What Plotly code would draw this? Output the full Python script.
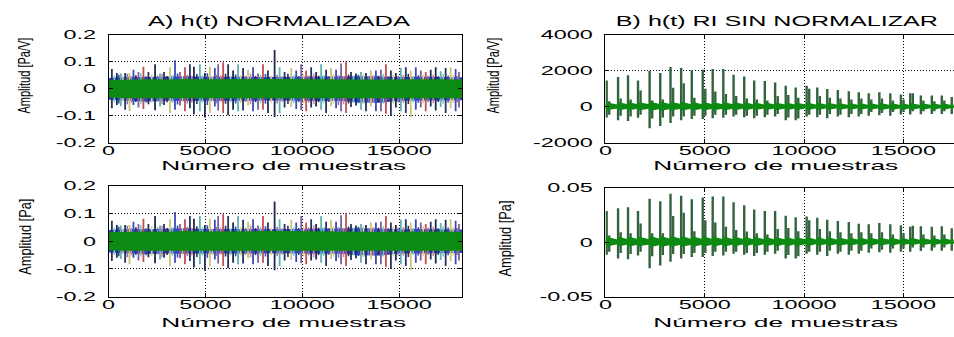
import json
import plotly.graph_objects as go

# ---------------- DATA ----------------
x_ticks = [0, 5000, 10000, 15000]
x_tick_text = ["0", "5000", "10000", "15000"]
a_y_ticks = [-0.2, -0.1, 0, 0.1, 0.2]
a_y_text = ["-0.2", "-0.1", "0", "0.1", "0.2"]
b_y_ticks = [-2000, 0, 2000, 4000]
b_y_text = ["-2000", "0", "2000", "4000"]
c_y_ticks = [-0.05, 0, 0.05]
c_y_text = ["-0.05", "0", "0.05"]

# Panel A (normalised responses, 8 overlapping traces) - tallest peaks
a_pos = [171, 429, 634, 857, 1080, 1286, 1543, 1800, 2058, 2400, 2658, 2864, 3172, 3429, 3687,
         3944, 4201, 4407, 4715, 4973, 5230, 5487, 5658, 5916, 6173, 6430, 6687, 6944, 7202,
         7459, 7716, 7973, 8230, 8573, 8831, 9088, 9431, 9688, 9945, 10202, 10459, 10717,
         10974, 11231, 11488, 11745, 12003, 12260, 12517, 12774, 13031, 13289, 13546, 13803,
         14060, 14318, 14575, 14832, 15089, 15346, 15603, 15861, 16118, 16375, 16632, 16889,
         17147, 17404, 17661, 17918, 18090]
a_top = [0.073, 0.058, 0.056, 0.058, 0.058, 0.070, 0.062, 0.081, 0.062, 0.091, 0.056, 0.062, 0.079,
         0.105, 0.062, 0.079, 0.091, 0.081, 0.091, 0.058, 0.081, 0.077, 0.091, 0.097, 0.091, 0.067,
         0.091, 0.077, 0.070, 0.079, 0.056, 0.091, 0.067, 0.143, 0.079, 0.062, 0.077, 0.067, 0.091,
         0.067, 0.079, 0.062, 0.091, 0.070, 0.077, 0.070, 0.093, 0.102, 0.062, 0.056, 0.062, 0.058,
         0.067, 0.067, 0.070, 0.091, 0.067, 0.058, 0.077, 0.079, 0.067, 0.079, 0.067, 0.062, 0.070,
         0.079, 0.065, 0.077, 0.079, 0.073, 0.062]
a_bot = [-0.072, -0.060, -0.065, -0.078, -0.084, -0.060, -0.070, -0.075, -0.058, -0.080, -0.066,
         -0.060, -0.090, -0.078, -0.062, -0.084, -0.072, -0.095, -0.084, -0.107, -0.090, -0.066,
         -0.081, -0.090, -0.098, -0.078, -0.084, -0.081, -0.062, -0.084, -0.078, -0.078, -0.090,
         -0.105, -0.090, -0.070, -0.068, -0.075, -0.080, -0.084, -0.070, -0.066, -0.078, -0.090,
         -0.065, -0.072, -0.084, -0.090, -0.068, -0.062, -0.078, -0.084, -0.066, -0.084, -0.084,
         -0.093, -0.101, -0.070, -0.084, -0.090, -0.105, -0.078, -0.070, -0.084, -0.066, -0.081,
         -0.068, -0.090, -0.072, -0.084, -0.070]
# shorter peaks in between
a2_pos = [300, 530, 745, 970, 1180, 1410, 1670, 1930, 2230, 2530, 2760, 3020, 3300, 3560, 3815,
          4070, 4300, 4560, 4845, 5100, 5360, 5570, 5790, 6040, 6300, 6560, 6815, 7070, 7330,
          7590, 7845, 8100, 8400, 8700, 8960, 9260, 9560, 9815, 10070, 10330, 10590, 10845,
          11100, 11360, 11615, 11870, 12130, 12390, 12645, 12900, 13160, 13420, 13675, 13930,
          14190, 14445, 14700, 14960, 15220, 15475, 15730, 15990, 16245, 16500, 16760, 17020,
          17275, 17530, 17790, 18000]
a2_top = [0.048, 0.052, 0.045, 0.055, 0.047, 0.050, 0.058, 0.046, 0.053, 0.049, 0.055, 0.047,
          0.051, 0.056, 0.048, 0.052, 0.046, 0.054, 0.050, 0.057, 0.047, 0.052, 0.049, 0.055,
          0.046, 0.053, 0.050, 0.048, 0.056, 0.047, 0.051, 0.054, 0.049, 0.052, 0.046, 0.055,
          0.050, 0.047, 0.053, 0.049, 0.056, 0.048, 0.051, 0.046, 0.054, 0.050, 0.047, 0.053,
          0.049, 0.052, 0.055, 0.047, 0.050, 0.048, 0.054, 0.046, 0.052, 0.049, 0.051, 0.055,
          0.047, 0.050, 0.053, 0.048, 0.052, 0.046, 0.054, 0.049, 0.051, 0.047]
a2_bot = [-0.050, -0.055, -0.047, -0.058, -0.052, -0.049, -0.056, -0.051, -0.054, -0.048, -0.057,
          -0.050, -0.053, -0.059, -0.049, -0.055, -0.051, -0.057, -0.052, -0.060, -0.050, -0.054,
          -0.048, -0.056, -0.051, -0.055, -0.053, -0.049, -0.058, -0.050, -0.054, -0.056, -0.051,
          -0.055, -0.049, -0.057, -0.053, -0.050, -0.055, -0.051, -0.058, -0.050, -0.054, -0.049,
          -0.056, -0.060, -0.058, -0.055, -0.052, -0.054, -0.057, -0.050, -0.053, -0.051, -0.056,
          -0.049, -0.054, -0.052, -0.053, -0.057, -0.050, -0.052, -0.055, -0.050, -0.054, -0.049,
          -0.056, -0.051, -0.053, -0.050]
# envelopes of the dense green and blue traces
a_env_x = [0, 1000, 2000, 3000, 4000, 5000, 6000, 7000, 8000, 9000, 10000, 11000, 12000, 13000,
           14000, 15000, 16000, 17000, 18000, 18250]
a_green_hi = [0.032, 0.034, 0.035, 0.034, 0.036, 0.035, 0.036, 0.037, 0.036, 0.036, 0.035, 0.036,
              0.035, 0.034, 0.034, 0.035, 0.034, 0.035, 0.034, 0.034]
a_green_lo = [-0.033, -0.035, -0.036, -0.035, -0.037, -0.036, -0.037, -0.037, -0.036, -0.037,
              -0.036, -0.036, -0.035, -0.036, -0.035, -0.036, -0.035, -0.036, -0.035, -0.035]
a_blue_hi = [0.040, 0.044, 0.043, 0.045, 0.046, 0.044, 0.045, 0.044, 0.043, 0.044, 0.043, 0.044,
             0.045, 0.046, 0.045, 0.043, 0.044, 0.043, 0.042, 0.042]
a_blue_lo = [-0.041, -0.045, -0.047, -0.045, -0.046, -0.045, -0.044, -0.045, -0.044, -0.045,
             -0.044, -0.045, -0.046, -0.051, -0.052, -0.045, -0.044, -0.045, -0.043, -0.043]

# Panels B / C (responses without normalising) - main impulses
b_pos = [60, 635, 1136, 1638, 2223, 2758, 3276, 3811, 4346, 4898, 5400, 5934, 6452, 6987, 7489,
         8024, 8543, 9077, 9579, 10130, 10665, 11166, 11701, 12253, 12754, 13256, 13791, 14343,
         14878, 15346, 15881, 16432, 16934, 17436]
b_top = [1460, 1650, 1750, 1460, 2000, 1875, 2200, 2150, 2020, 2050, 2090, 2090, 1780, 1680,
         1450, 1430, 1340, 1160, 1060, 1160, 1070, 980, 930, 860, 800, 750, 800, 750, 680, 750,
         625, 625, 625, 540]
b_bot = [-600, -750, -800, -610, -1200, -1080, -900, -760, -690, -690, -640, -615, -545, -590,
         -640, -590, -545, -750, -750, -545, -590, -640, -545, -590, -545, -500, -470, -500,
         -440, -440, -415, -400, -400, -400]
b_mid_pos = [190, 765, 1266, 1768, 2353, 2888, 3406, 3941, 4476, 5028, 5530, 6064, 6582, 7117,
             7619, 8154, 8673, 9207, 9709, 10260, 10795, 11296, 11831, 12383, 12884, 13386,
             13921, 14473, 15008, 15476, 16011, 16562, 17064]
b_mid_top = [300, 450, 400, 900, 350, 400, 1050, 1300, 500, 1000, 850, 700, 600, 450, 400, 350,
             600, 650, 500, 1000, 600, 500, 450, 400, 450, 400, 450, 350, 400, 750, 350, 300, 350]
b_mid_bot = [-450, -500, -550, -450, -650, -600, -550, -550, -500, -500, -450, -450, -450, -500,
             -500, -450, -400, -600, -650, -450, -450, -400, -450, -400, -400, -300, -350, -300,
             -300, -250, -250, -250, -250]
b_band_hi = [300, 320, 330, 320, 350, 350, 350, 350, 340, 340, 330, 330, 320, 320, 310, 310, 300,
             300, 300, 300, 290, 290, 280, 280, 280, 270, 270, 260, 260, 260, 250, 250, 250, 250]
b_band_lo = [-250, -260, -270, -260, -300, -300, -290, -290, -280, -280, -270, -270, -260, -260,
             -250, -250, -250, -250, -240, -240, -230, -230, -230, -220, -220, -220, -210, -210,
             -200, -200, -200, -200, -200, -200]
b_tail_hi = [120, 130, 140, 130, 150, 150, 150, 140, 140, 140, 130, 130, 130, 120, 120, 120, 120,
             120, 110, 110, 110, 110, 100, 100, 100, 100, 100, 90, 90, 90, 90, 90, 90, 90]
b_tail_lo = [-100, -110, -120, -110, -130, -130, -120, -120, -120, -110, -110, -110, -100, -100,
             -100, -100, -100, -100, -90, -90, -90, -90, -90, -80, -80, -80, -80, -80, -80, -70,
             -70, -70, -70, -70]

c_top = [0.0286, 0.031, 0.032, 0.0286, 0.0397, 0.0374, 0.0444, 0.0426, 0.0394, 0.041, 0.0418,
         0.0418, 0.0365, 0.0339, 0.030, 0.0286, 0.0286, 0.0242, 0.0228, 0.0234, 0.0222, 0.0204,
         0.0193, 0.0184, 0.0169, 0.0164, 0.0175, 0.0164, 0.0155, 0.014, 0.0146, 0.014, 0.0146,
         0.0126]
c_bot = [-0.0117, -0.0152, -0.0158, -0.0123, -0.024, -0.0216, -0.0181, -0.0152, -0.0137,
         -0.0137, -0.0128, -0.0123, -0.0108, -0.0117, -0.0128, -0.0117, -0.0108, -0.0152,
         -0.0152, -0.0108, -0.0117, -0.0128, -0.0108, -0.0117, -0.0108, -0.0099, -0.0093,
         -0.0099, -0.0088, -0.0088, -0.0082, -0.0079, -0.0079, -0.0079]
c_mid_top = [0.006, 0.009, 0.008, 0.017, 0.008, 0.008, 0.024, 0.027, 0.010, 0.020, 0.018, 0.014,
             0.011, 0.0096, 0.008, 0.007, 0.012, 0.013, 0.010, 0.020, 0.012, 0.010, 0.009, 0.008,
             0.009, 0.008, 0.009, 0.007, 0.008, 0.015, 0.007, 0.006, 0.007]
c_mid_bot = [-0.009, -0.010, -0.011, -0.009, -0.013, -0.012, -0.011, -0.011, -0.010, -0.010,
             -0.009, -0.009, -0.009, -0.010, -0.010, -0.009, -0.008, -0.012, -0.013, -0.009,
             -0.009, -0.008, -0.009, -0.008, -0.008, -0.006, -0.007, -0.006, -0.006, -0.005,
             -0.005, -0.005, -0.005]
c_band_hi = [0.0060, 0.0064, 0.0066, 0.0064, 0.0070, 0.0070, 0.0070, 0.0070, 0.0068, 0.0068,
             0.0066, 0.0066, 0.0064, 0.0064, 0.0062, 0.0062, 0.0060, 0.0060, 0.0060, 0.0060,
             0.0058, 0.0058, 0.0056, 0.0056, 0.0056, 0.0054, 0.0054, 0.0052, 0.0052, 0.0052,
             0.0050, 0.0050, 0.0050, 0.0050]
c_band_lo = [-0.0050, -0.0052, -0.0054, -0.0052, -0.0060, -0.0060, -0.0058, -0.0058, -0.0056,
             -0.0056, -0.0054, -0.0054, -0.0052, -0.0052, -0.0050, -0.0050, -0.0050, -0.0050,
             -0.0048, -0.0048, -0.0046, -0.0046, -0.0046, -0.0044, -0.0044, -0.0044, -0.0042,
             -0.0042, -0.0040, -0.0040, -0.0040, -0.0040, -0.0040, -0.0040]
c_tail_hi = [0.0024, 0.0026, 0.0028, 0.0026, 0.0030, 0.0030, 0.0030, 0.0028, 0.0028, 0.0028,
             0.0026, 0.0026, 0.0026, 0.0024, 0.0024, 0.0024, 0.0024, 0.0024, 0.0022, 0.0022,
             0.0022, 0.0022, 0.0020, 0.0020, 0.0020, 0.0020, 0.0020, 0.0018, 0.0018, 0.0018,
             0.0018, 0.0018, 0.0018, 0.0018]
c_tail_lo = [-0.0020, -0.0022, -0.0024, -0.0022, -0.0026, -0.0026, -0.0024, -0.0024, -0.0024,
             -0.0022, -0.0022, -0.0022, -0.0020, -0.0020, -0.0020, -0.0020, -0.0020, -0.0020,
             -0.0018, -0.0018, -0.0018, -0.0018, -0.0018, -0.0016, -0.0016, -0.0016, -0.0016,
             -0.0016, -0.0016, -0.0014, -0.0014, -0.0014, -0.0014, -0.0014]

A_XMAX = 18250
B_XMAX = 17550

# ---------------- STYLE ----------------
FONT = "Liberation Sans, Arial, Helvetica, sans-serif"
GREEN = "#0c8a12"
DARK_GREEN = "#33643d"
BLUE = "#2a3fc8"
A_COLORS = ["#27335e", "#1f2a50", "#5fb0b0", "#27335e", "#c9c27a", "#3a4bb8", "#7d5e9e", "#c0504d"]
A2_COLORS = ["#7fc6c6", "#3a4bb8", "#d7d28a", "#8a78b8", "#c98aa0", "#27335e"]


def segments(pos, top, bot):
    xs, ys = [], []
    for p, t, b in zip(pos, top, bot):
        xs += [p, p, None]
        ys += [b, t, None]
    return xs, ys


def band(xv, hi, lo):
    return list(xv) + list(xv)[::-1], list(hi) + list(lo)[::-1]


def impulse_band(pos, hi, lo, thi, tlo, xmax):
    xs, up, dn = [], [], []
    for k, p in enumerate(pos):
        nxt = pos[k + 1] if k + 1 < len(pos) else xmax
        xs += [p, p + 0.12 * (nxt - p), nxt - 15]
        up += [hi[k], hi[k] * 0.75, thi[k]]
        dn += [lo[k], lo[k] * 0.75, tlo[k]]
    xs = [0] + xs
    up = [thi[0]] + up
    dn = [tlo[0]] + dn
    return xs + xs[::-1], up + dn[::-1]


fig = go.Figure()


def add_panel_a(xa, ya):
    bx, by = band(a_env_x, a_blue_hi, a_blue_lo)
    fig.add_trace(go.Scatter(x=bx, y=by, fill="toself", fillcolor=BLUE, line=dict(width=0),
                             mode="lines", xaxis=xa, yaxis=ya, hoverinfo="skip"))
    for i in range(len(A2_COLORS)):
        sx, sy = segments(a2_pos[i::len(A2_COLORS)], a2_top[i::len(A2_COLORS)],
                          a2_bot[i::len(A2_COLORS)])
        fig.add_trace(go.Scatter(x=sx, y=sy, mode="lines",
                                 line=dict(color=A2_COLORS[i], width=1.6),
                                 xaxis=xa, yaxis=ya, hoverinfo="skip"))
    for i in range(len(A_COLORS)):
        sx, sy = segments(a_pos[i::len(A_COLORS)], a_top[i::len(A_COLORS)],
                          a_bot[i::len(A_COLORS)])
        fig.add_trace(go.Scatter(x=sx, y=sy, mode="lines",
                                 line=dict(color=A_COLORS[i], width=1.8),
                                 xaxis=xa, yaxis=ya, hoverinfo="skip"))
    gx, gy = band(a_env_x, a_green_hi, a_green_lo)
    fig.add_trace(go.Scatter(x=gx, y=gy, fill="toself", fillcolor=GREEN, line=dict(width=0),
                             mode="lines", xaxis=xa, yaxis=ya, hoverinfo="skip"))


def add_panel_b(xa, ya, top, bot, mtop, mbot, hi, lo, thi, tlo):
    ex, ey = impulse_band(b_pos, hi, lo, thi, tlo, B_XMAX)
    sx, sy = segments(b_mid_pos, mtop, mbot)
    fig.add_trace(go.Scatter(x=sx, y=sy, mode="lines", line=dict(color=DARK_GREEN, width=2.4),
                             xaxis=xa, yaxis=ya, hoverinfo="skip"))
    sx, sy = segments(b_pos, top, bot)
    fig.add_trace(go.Scatter(x=sx, y=sy, mode="lines", line=dict(color=DARK_GREEN, width=2.4),
                             xaxis=xa, yaxis=ya, hoverinfo="skip"))
    fig.add_trace(go.Scatter(x=ex, y=ey, fill="toself", fillcolor=GREEN, line=dict(width=0),
                             mode="lines", xaxis=xa, yaxis=ya, hoverinfo="skip"))


add_panel_a("x", "y")
add_panel_b("x2", "y2", b_top, b_bot, b_mid_top, b_mid_bot, b_band_hi, b_band_lo, b_tail_hi, b_tail_lo)
add_panel_a("x3", "y3")
add_panel_b("x4", "y4", c_top, c_bot, c_mid_top, c_mid_bot, c_band_hi, c_band_lo, c_tail_hi, c_tail_lo)

W, H = 954, 337
L_DOM = [105 / W, 460 / W]
R_DOM = [604 / W, 1.0]
T_DOM = [(H - 142) / H, (H - 29) / H]
BL_DOM = [(H - 303) / H, (H - 187) / H]
BR_DOM = [(H - 303) / H, (H - 189) / H]

tickfont = dict(family=FONT, size=13, color="black")


def xax(dom, xmax, anchor):
    return dict(domain=dom, range=[0, xmax], anchor=anchor, tickvals=x_ticks, ticktext=x_tick_text,
                showline=True, linecolor="black", linewidth=1, mirror="ticks", ticks="inside",
                ticklen=4, tickcolor="black", showgrid=True, gridcolor="black", gridwidth=1,
                griddash="1px,2px", zeroline=False, tickfont=tickfont, ticklabelstandoff=-4)


def yax(dom, rng, tv, tt, anchor, mirror):
    return dict(domain=dom, range=rng, anchor=anchor, tickvals=tv, ticktext=tt,
                showline=True, linecolor="black", linewidth=1, mirror=mirror, ticks="inside",
                ticklen=4, tickcolor="black", showgrid=True, gridcolor="black", gridwidth=1,
                griddash="1px,2px", zeroline=False, tickfont=tickfont, ticklabelstandoff=9)


fig.update_layout(
    width=W, height=H, margin=dict(l=0, r=0, t=0, b=0),
    paper_bgcolor="white", plot_bgcolor="white", showlegend=False,
    xaxis=xax(L_DOM, A_XMAX, "y"),
    yaxis=yax(T_DOM, [-0.2, 0.2], a_y_ticks, a_y_text, "x", "ticks"),
    xaxis2=xax(R_DOM, B_XMAX, "y2"),
    yaxis2=yax(T_DOM, [-2000, 4000], b_y_ticks, b_y_text, "x2", False),
    xaxis3=xax(L_DOM, A_XMAX, "y3"),
    yaxis3=yax(BL_DOM, [-0.2, 0.2], a_y_ticks, a_y_text, "x3", "ticks"),
    xaxis4=xax(R_DOM, B_XMAX, "y4"),
    yaxis4=yax(BR_DOM, [-0.05, 0.05], c_y_ticks, c_y_text, "x4", False),
)

labfont = dict(family=FONT, size=13, color="black")
ylabfont = dict(family=FONT, size=16, color="black")


def ann(text, px, py, font, angle=0):
    fig.add_annotation(text=text, x=px / W, y=1 - py / H, xref="paper", yref="paper",
                       showarrow=False, font=font, textangle=angle,
                       xanchor="center", yanchor="middle")


ann("A) h(t) NORMALIZADA", 277, 15, dict(family=FONT, size=14, color="black"))
ann("B) h(t) RI SIN NORMALIZAR", 776, 15, dict(family=FONT, size=14, color="black"))
ann("Número de muestras", 281, 166, labfont)
ann("Número de muestras", 775, 166, labfont)
ann("Número de muestras", 281, 330, labfont)
ann("Número de muestras", 775, 330, labfont)
ann("Amplitud [Pa/V]", 21, 72, ylabfont, -90)
ann("Amplitud [Pa/V]", 492, 72, ylabfont, -90)
ann("Amplitud [Pa]", 21, 240, ylabfont, -90)
ann("Amplitud [Pa]", 503, 242, ylabfont, -90)

# Text widths as they appear in the (horizontally stretched) original picture
targets = {"A) h(t) NORMALIZADA": 262, "B) h(t) RI SIN NORMALIZAR": 322,
           "Número de muestras": 245, "Amplitud [Pa/V]": 76, "Amplitud [Pa]": 76}
post = """
(function(){
  var gd = document.getElementById('{plot_id}');
  var targets = TARGETS;
  gd.querySelectorAll('svg text').forEach(function(t){
    var s = t.textContent;
    var rotated = false;
    var r = t.closest('[transform*="rotate"]');
    if (r) {
      var m = /rotate\\(\\s*(-?[0-9.]+)/.exec(r.getAttribute('transform'));
      rotated = m && Math.abs(parseFloat(m[1])) > 0.01;
    }
    var w = t.getComputedTextLength();
    if (!w) return;
    var tw;
    if (s in targets) tw = targets[s];
    else if (rotated) return;
    else tw = w * 1.8;
    t.setAttribute('textLength', tw.toFixed(1));
    t.setAttribute('lengthAdjust', 'spacingAndGlyphs');
  });
})();
""".replace("TARGETS", json.dumps(targets))

fig.write_html("out.html", post_script=post)
